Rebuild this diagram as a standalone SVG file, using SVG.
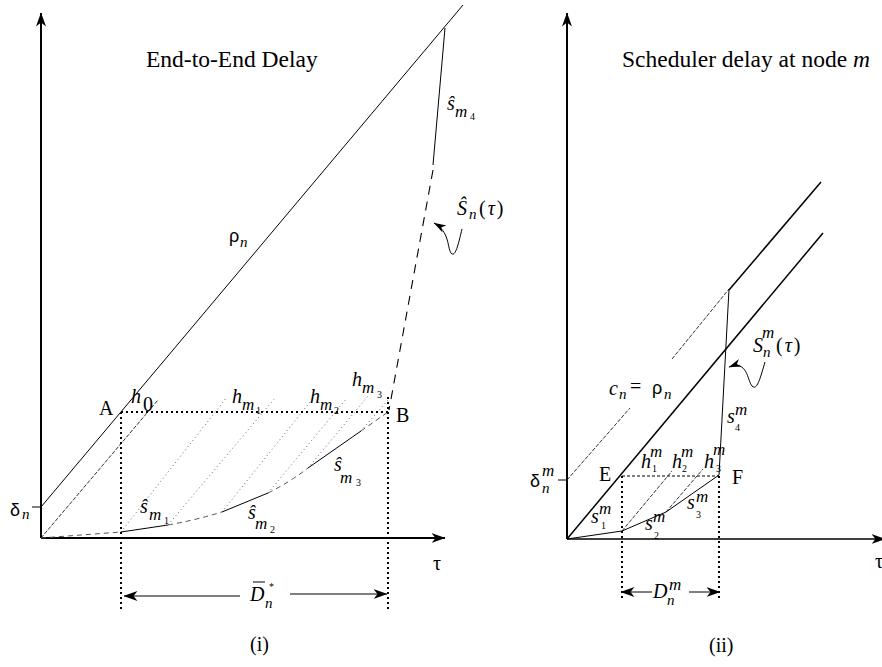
<svg xmlns="http://www.w3.org/2000/svg" width="882" height="667" viewBox="0 0 882 667">
<defs>
<marker id="ah" markerUnits="userSpaceOnUse" viewBox="0 0 14 10" refX="13.5" refY="5" markerWidth="14" markerHeight="10" orient="auto">
<path d="M0,0 L14,5 L0,10 L4,5 Z" fill="#000"/>
</marker>
<marker id="ahs" markerUnits="userSpaceOnUse" viewBox="0 0 14 9" refX="13.5" refY="4.5" markerWidth="13" markerHeight="8" orient="auto">
<path d="M0,0 L14,4.5 L0,9 L4,4.5 Z" fill="#000"/>
</marker>
</defs>
<style>
.ax{stroke:#000;stroke-width:2;fill:none}
.ln{stroke:#000;stroke-width:1;fill:none}
.ln2{stroke:#000;stroke-width:1.5;fill:none}
.bdot{stroke:#000;stroke-width:2;stroke-dasharray:2 3;fill:none}
.gdot{stroke:#666;stroke-width:1;stroke-dasharray:1 3;fill:none}
.thd{stroke:#000;stroke-width:0.8;stroke-dasharray:4 1.5;fill:none}
.gdash{stroke:#555;stroke-width:1;stroke-dasharray:5 4;fill:none}
.bdash{stroke:#000;stroke-width:1.1;stroke-dasharray:9 7;fill:none}
.fdash{stroke:#000;stroke-width:1;stroke-dasharray:3 2;fill:none}
text{font-family:"Liberation Serif","Times New Roman",serif;fill:#000}
.rm{font-size:20px}
.tt{font-size:23.5px}
.mi{font-size:20px;font-style:italic}
.sb{font-size:15px;font-style:italic}
.sm{font-size:17px;font-style:italic}
.ss{font-size:10px}
.gr{font-family:"Liberation Sans","DejaVu Sans",sans-serif;font-size:18px}
</style>

<g id="panel-i">
<g id="axes-i">
<line class="ax" x1="41" y1="538" x2="41" y2="13" marker-end="url(#ah)"/>
<line class="ax" x1="41" y1="538" x2="445" y2="538" marker-end="url(#ah)"/>
<line class="ln" x1="32" y1="507" x2="41" y2="507"/>
</g>
<g id="curves-i">
<line class="ln" x1="41" y1="507" x2="463" y2="5"/>
<line class="thd" x1="41" y1="538" x2="158" y2="400"/>
<line class="gdot" x1="121" y1="532" x2="227" y2="397"/>
<line class="gdot" x1="168" y1="525" x2="275" y2="398"/>
<line class="gdot" x1="222" y1="512" x2="314" y2="397"/>
<line class="gdot" x1="268" y1="493" x2="347" y2="398"/>
<line class="gdot" x1="308" y1="468" x2="368" y2="396"/>
<line class="gdot" x1="361" y1="431" x2="388" y2="400"/>
<path class="gdash" d="M41,538 L121,532"/>
<path class="gdash" d="M168,525 Q196,520 222,512"/>
<path class="gdash" d="M268,493 Q290,482 308,468"/>
<path class="gdash" d="M361,431 L388,412"/>
<line class="ln" x1="121" y1="532" x2="168" y2="525" stroke-width="1.2"/>
<line class="ln" x1="222" y1="512" x2="268" y2="493" stroke-width="1.2"/>
<line class="ln" x1="308" y1="468" x2="361" y2="431" stroke-width="1.2"/>
<line class="ln" x1="445" y1="28" x2="433" y2="165" stroke-width="1.2"/>
<line class="bdash" x1="433" y1="170" x2="389" y2="410"/>
<line class="bdot" x1="121" y1="412" x2="388" y2="412"/>
<line class="bdot" x1="121" y1="412" x2="121" y2="612"/>
<line class="bdot" x1="388" y1="397" x2="388" y2="612"/>
<path class="ln" d="M462,229 C458,246 455,258 451,253 C447,247 450,232 434,223" marker-end="url(#ahs)"/>
</g>
<g id="dim-i">
<line class="ln" x1="240" y1="596" x2="124" y2="596" marker-end="url(#ah)"/>
<line class="ln" x1="290" y1="594" x2="387" y2="594" marker-end="url(#ah)"/>
<line class="ln" x1="253" y1="582" x2="265" y2="582"/>
</g>
<g id="labels-i">
<text class="tt" x="146" y="67">End-to-End Delay</text>
<text class="gr" x="229" y="242">ρ</text><text class="sb" x="240" y="247">n</text>
<text class="gr" x="10" y="516" font-size="20">δ</text><text class="sb" x="22" y="519">n</text>
<text class="rm" x="99" y="415">A</text>
<text class="rm" x="396" y="422">B</text>
<text class="mi" x="131" y="403">h</text><text class="rm" x="143" y="411" font-size="14">0</text>
<text class="mi" x="232" y="403">h</text><text class="sm" x="242" y="410">m</text><text class="ss" x="256" y="414">1</text>
<text class="mi" x="310" y="403">h</text><text class="sm" x="320" y="410">m</text><text class="ss" x="334" y="414">2</text>
<text class="mi" x="352" y="386">h</text><text class="sm" x="362" y="393">m</text><text class="ss" x="377" y="398">3</text>
<text class="mi" x="140" y="513">ŝ</text><text class="sm" x="149" y="520">m</text><text class="ss" x="164" y="524">1</text>
<text class="mi" x="248" y="519">ŝ</text><text class="sm" x="255" y="529">m</text><text class="ss" x="270" y="533">2</text>
<text class="mi" x="334" y="471">ŝ</text><text class="sm" x="340" y="483">m</text><text class="ss" x="356" y="486">3</text>
<text class="mi" x="447" y="110">ŝ</text><text class="sm" x="455" y="117">m</text><text class="ss" x="470" y="120">4</text>
<text class="mi" x="457" y="215">Ŝ</text><text class="sb" x="469" y="219">n</text><text class="rm" x="479" y="215" letter-spacing="2">(<tspan font-style="italic">τ</tspan>)</text>
<text class="rm" x="433" y="570">τ</text>
<text class="mi" x="250" y="601">D</text><text class="sb" x="265" y="608">n</text><text class="ss" x="269" y="590">*</text>
<text class="rm" x="250" y="651" font-size="21">(i)</text>
</g>
</g>

<g id="panel-ii">
<g id="axes-ii">
<line class="ax" x1="567" y1="539" x2="567" y2="13" marker-end="url(#ah)"/>
<line class="ln2" x1="567" y1="539" x2="885" y2="539" marker-end="url(#ah)"/>
<line class="ln" x1="558" y1="480" x2="567" y2="480"/>
</g>
<g id="curves-ii">
<line class="ln2" x1="729" y1="290" x2="821" y2="182"/>
<line class="ln2" x1="567" y1="539" x2="823" y2="233"/>
<line class="thd" x1="567" y1="480" x2="630" y2="408"/>
<line class="thd" x1="672" y1="359" x2="729" y2="289"/>
<line class="thd" x1="622" y1="531" x2="672" y2="471"/>
<line class="thd" x1="666" y1="512" x2="703" y2="469"/>
<polyline class="ln" points="567,539 622,531 666,512 719,475"/>
<line class="ln" x1="719" y1="475" x2="729" y2="289" stroke-width="1.4"/>
<line class="fdash" x1="622" y1="476" x2="719" y2="476"/>
<line class="bdot" x1="622" y1="476" x2="622" y2="600"/>
<line class="bdot" x1="719" y1="476" x2="719" y2="600"/>
<path class="ln" d="M765,362 C760,379 757,391 752,386 C747,380 748,360 729,367" marker-end="url(#ahs)"/>
</g>
<g id="dim-ii">
<line class="ln" x1="652" y1="592" x2="621" y2="592" marker-end="url(#ah)"/>
<line class="ln" x1="689" y1="592" x2="720" y2="592" marker-end="url(#ah)"/>
</g>
<g id="labels-ii">
<text class="tt" x="622" y="67">Scheduler delay at node <tspan font-style="italic">m</tspan></text>
<text class="gr" x="530" y="487" font-size="20">δ</text><text class="sm" x="542" y="476" font-size="16">m</text><text class="sb" x="542" y="493">n</text>
<text class="rm" x="599" y="481">E</text>
<text class="rm" x="732" y="484">F</text>
<text class="mi" x="609" y="395">c</text><text class="sb" x="619" y="399">n</text><text class="rm" x="630" y="393">=</text><text class="gr" x="652" y="394">ρ</text><text class="sb" x="664" y="399">n</text>
<text class="mi" x="591" y="523">s</text><text class="sm" x="599" y="514" font-size="16">m</text><text class="ss" x="601" y="529">1</text>
<text class="mi" x="645" y="530">s</text><text class="sm" x="653" y="522" font-size="16">m</text><text class="ss" x="654" y="539">2</text>
<text class="mi" x="687" y="509">s</text><text class="sm" x="696" y="502" font-size="16">m</text><text class="ss" x="696" y="518">3</text>
<text class="mi" x="727" y="423">s</text><text class="sm" x="735" y="415" font-size="16">m</text><text class="ss" x="735" y="431">4</text>
<text class="mi" x="641" y="468">h</text><text class="sm" x="650" y="457" font-size="16">m</text><text class="ss" x="652" y="472">1</text>
<text class="mi" x="672" y="468">h</text><text class="sm" x="681" y="457" font-size="16">m</text><text class="ss" x="682" y="472">2</text>
<text class="mi" x="704" y="468">h</text><text class="sm" x="713" y="455" font-size="16">m</text><text class="ss" x="716" y="472">3</text>
<text class="mi" x="753" y="352">S</text><text class="sm" x="762" y="338" font-size="15">m</text><text class="sb" x="763" y="357">n</text><text class="rm" x="776" y="352" letter-spacing="2">(<tspan font-style="italic">τ</tspan>)</text>
<text class="mi" x="653" y="598">D</text><text class="sm" x="669" y="590" font-size="16">m</text><text class="sb" x="667" y="605">n</text>
<text class="rm" x="875" y="568">τ</text>
<text class="rm" x="709" y="652" font-size="21">(ii)</text>
</g>
</g>
</svg>
